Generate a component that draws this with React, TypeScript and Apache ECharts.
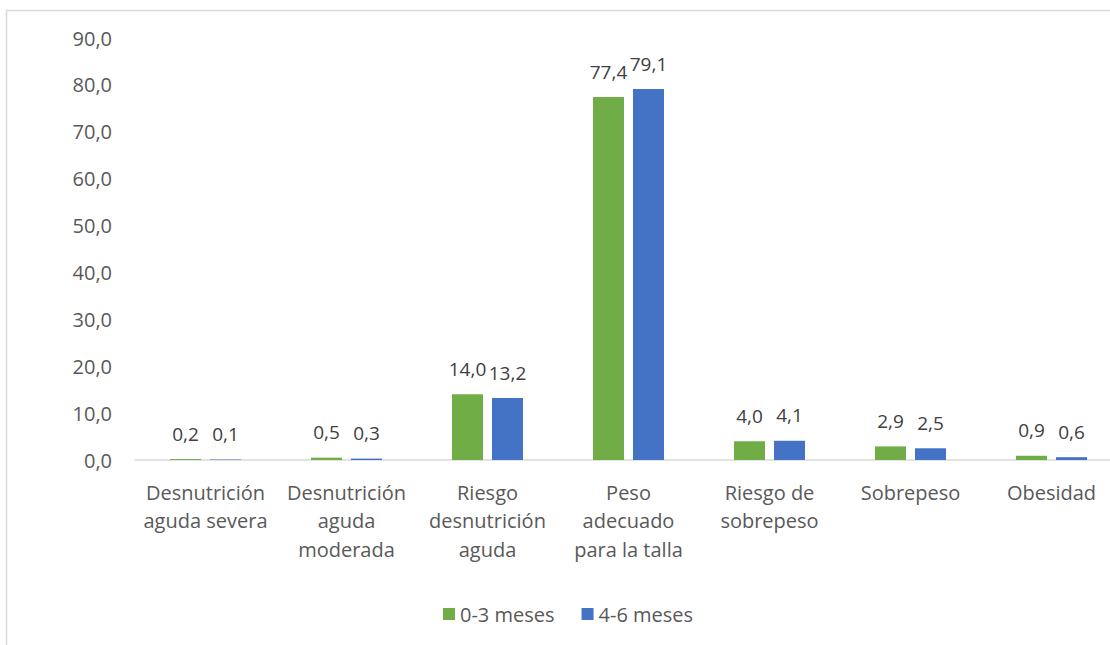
import React, { useEffect, useRef } from "react";
import * as echarts from "echarts";

const categories = [
  "Desnutrición\naguda severa",
  "Desnutrición\naguda\nmoderada",
  "Riesgo\ndesnutrición\naguda",
  "Peso\nadecuado\npara la talla",
  "Riesgo de\nsobrepeso",
  "Sobrepeso",
  "Obesidad",
];
const seriesNames = ["0-3 meses", "4-6 meses"];
const meses0a3 = [0.2, 0.5, 14.0, 77.4, 4.0, 2.9, 0.9];
const meses4a6 = [0.1, 0.3, 13.2, 79.1, 4.1, 2.5, 0.6];
const colors = ["#70AD47", "#4472C4"];

const FONT = "'Open Sans', Lato, sans-serif";
const SIZE = 20;
const fmt = (v: number) => v.toFixed(1).replace(".", ",");

export default function App() {
  const ref = useRef<HTMLDivElement>(null);
  useEffect(() => {
    if (!ref.current) return;
    const chart = echarts.init(ref.current, undefined, { renderer: "svg" });
    const makeSeries = (name: string, data: number[], color: string) => ({
      name,
      type: "bar",
      data,
      barWidth: 31,
      barGap: "29%",
      itemStyle: { color },
      label: {
        show: true,
        position: "top",
        distance: 16,
        color: "#404040",
        fontSize: 19,
        fontFamily: FONT,
        formatter: (p: any) => fmt(p.value),
      },
    });
    chart.setOption({
      animation: false,
      backgroundColor: "#ffffff",
      textStyle: { fontFamily: FONT },
      graphic: [
        {
          type: "rect",
          shape: { x: 6.5, y: 10.5, width: 1300, height: 800 },
          style: { fill: "none", stroke: "#d9d9d9", lineWidth: 1.5 },
          silent: true,
          z: -1,
        },
      ],
      legend: {
        data: seriesNames,
        left: 438,
        top: 599,
        itemWidth: 12,
        itemHeight: 12,
        itemGap: 27,
        icon: "rect",
        textStyle: { color: "#595959", fontSize: SIZE, fontFamily: FONT },
      },
      grid: {
        left: 135,
        top: 38,
        width: 987,
        height: 422,
        containLabel: false,
        outerBoundsMode: "none",
      },
      xAxis: {
        type: "category",
        data: categories,
        axisLine: { lineStyle: { color: "#d9d9d9", width: 1.5 } },
        axisTick: { show: false },
        axisLabel: {
          color: "#595959",
          fontSize: SIZE,
          lineHeight: 28.5,
          margin: 18,
          interval: 0,
          fontFamily: FONT,
        },
      },
      yAxis: {
        type: "value",
        min: 0,
        max: 90,
        interval: 10,
        axisLine: { show: false },
        axisTick: { show: false },
        splitLine: { show: false },
        axisLabel: {
          color: "#595959",
          fontSize: SIZE,
          margin: 23,
          fontFamily: FONT,
          formatter: (v: number) => fmt(v),
        },
      },
      series: [
        makeSeries(seriesNames[0], meses0a3, colors[0]),
        makeSeries(seriesNames[1], meses4a6, colors[1]),
      ],
    });
    return () => chart.dispose();
  }, []);
  return (
    <div
      ref={ref}
      style={{ position: "fixed", left: 0, top: 0, width: 1110, height: 645 }}
    />
  );
}
